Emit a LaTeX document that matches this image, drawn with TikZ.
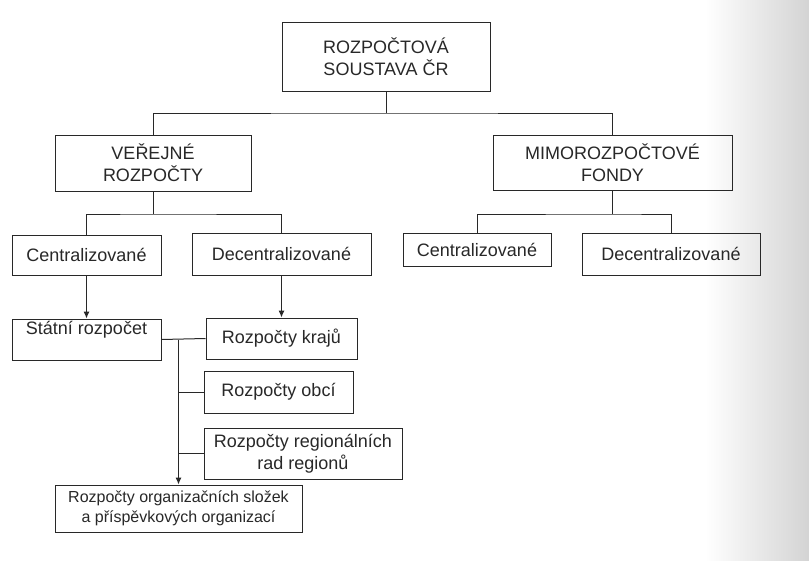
\documentclass[tikz,border=0pt]{standalone}
\usepackage{fontspec}
\setmainfont{Liberation Sans}
\usetikzlibrary{arrows.meta}
\definecolor{ink}{RGB}{40,40,40}
\tikzset{
  box/.style={draw=ink, line width=1pt, inner sep=0pt, align=center, text=ink,
    font=\fontsize{18}{22}\selectfont},
  lbl/.style={inner sep=0pt, align=center, text=ink, font=\fontsize{18}{22}\selectfont},
  conn/.style={draw=ink, line width=1pt},
  arr/.style={conn, -{Latex[length=7pt,width=6pt]}},
}
\begin{document}
\begin{tikzpicture}[x=1pt,y=-1pt]
\useasboundingbox (0,0) rectangle (809,560);
\fill[white] (0,0) rectangle (809,560);
\shade[left color=white, right color=black!17] (705,0) rectangle (809,560);

\node[box, minimum width=208pt, minimum height=69pt] (top) at (386,56.5) {ROZPOČTOVÁ\\SOUSTAVA ČR};
\node[box, minimum width=196pt, minimum height=56pt] (ver) at (153,163) {VEŘEJNÉ\\ROZPOČTY};
\node[box, minimum width=239pt, minimum height=55pt] (mimo) at (612.5,162.5) {MIMOROZPOČTOVÉ\\FONDY};

\node[box, minimum width=149pt, minimum height=40pt] (c1) at (86.5,255) {Centralizované};
\node[box, minimum width=179pt, minimum height=42pt] (d1) at (281.5,254) {Decentralizované};
\node[box, minimum width=148pt, minimum height=33pt] (c2) at (477,249.5) {Centralizované};
\node[box, minimum width=178pt, minimum height=42pt] (d2) at (671,254) {Decentralizované};

\node[box, minimum width=149pt, minimum height=41pt] (st) at (86.5,339.5) {};
\node[lbl, anchor=north] (stl) at ([yshift=-3pt]st.north) {Státní rozpočet};
\node[box, minimum width=151pt, minimum height=41pt] (kr) at (281.5,338.5) {Rozpočty krajů};
\node[box, minimum width=149pt, minimum height=42pt] (ob) at (278.5,392) {Rozpočty obcí};
\node[box, minimum width=198pt, minimum height=51pt] (reg) at (303,453.5) {Rozpočty regionálních\\rad regionů};
\node[box, minimum width=247pt, minimum height=47pt, font=\fontsize{16}{20}\selectfont] (bot) at (178.5,508.5) {Rozpočty organizačních složek\\a příspěvkových organizací};

\coordinate (j1) at (386,113);
\coordinate (j2) at (153,214);
\coordinate (j4) at (612.5,214);
\draw[conn] (top.south) -- (j1);
\draw[conn] (ver.north) |- (j1) -| (mimo.north);
\draw[conn] (ver.south) -- (j2);
\draw[conn] (c1.north) |- (j2) -| (d1.north);
\draw[conn] (mimo.south) -- (j4);
\draw[conn] (c2.north) |- (j4) -| (d2.north);

\draw[arr] (c1.south) -- (st.north);
\draw[arr] (d1.south) -- (kr.north);
\draw[conn] (st.east) -- (kr.west);
\coordinate (j3) at (bot.north |- st.east);
\draw[arr] (j3) -- (bot.north);
\draw[conn] (ob.west) -- (ob.west -| j3);
\draw[conn] (reg.west) -- (reg.west -| j3);
\end{tikzpicture}
\end{document}
